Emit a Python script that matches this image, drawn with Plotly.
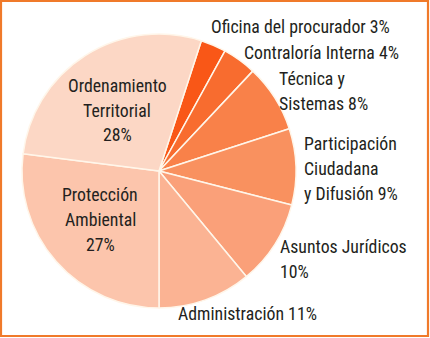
import plotly.graph_objects as go

# Budget share by area (percent), listed clockwise from the top
areas = [
    "Oficina del procurador",
    "Contraloría Interna",
    "Técnica y Sistemas",
    "Participación Ciudadana y Difusión",
    "Asuntos Jurídicos",
    "Administración",
    "Protección Ambiental",
    "Ordenamiento Territorial",
]
shares = [3, 4, 8, 9, 10, 11, 27, 28]

# How each area name is broken across lines in its label
label_lines = [
    ["Oficina del procurador"],
    ["Contraloría Interna"],
    ["Técnica y", "Sistemas"],
    ["Participación", "Ciudadana", "y Difusión"],
    ["Asuntos Jurídicos", ""],
    ["Administración"],
    ["Protección", "Ambiental", ""],
    ["Ordenamiento", "Territorial", ""],
]

colors = ["#F95717", "#F86C2F", "#F98149", "#F9915F", "#FAA079",
          "#FBB393", "#FCC5AC", "#FCD7C5"]

W, H = 430, 338
FONT = "Roboto Condensed, Roboto, sans-serif"
FONT_SIZE = 17.8
LINE_GAP = 25  # px between label lines

# Pie geometry in pixels
cx, cy, r = 159, 171, 137

fig = go.Figure(go.Pie(
    labels=areas,
    values=shares,
    sort=False,
    direction="clockwise",
    rotation=18,
    textinfo="none",
    hoverinfo="label+percent",
    marker=dict(colors=colors, line=dict(color="#FFF6EA", width=1.5)),
    domain=dict(x=[(cx - r) / W, (cx + r) / W],
                y=[(H - cy - r) / H, (H - cy + r) / H]),
))

# Label placement: pixel anchor of the label block centre, horizontal anchor
placements = [
    (209, 27, "left"),
    (242, 52, "left"),
    (277, 91, "left"),
    (302, 168, "left"),
    (278, 259, "left"),
    (247, 313, "center"),
    (100, 219, "center"),
    (117, 110, "center"),
]

for lines, val, (px, py, anchor) in zip(label_lines, shares, placements):
    parts = list(lines)
    if parts[-1] == "":
        parts[-1] = f"{val}%"
    else:
        parts[-1] = f"{parts[-1]} {val}%"
    n = len(parts)
    for i, line in enumerate(parts):
        ly = py + (i - (n - 1) / 2) * LINE_GAP
        fig.add_annotation(
            x=px / W, y=1 - ly / H, xref="paper", yref="paper",
            text=line,
            showarrow=False,
            xanchor=anchor, yanchor="middle",
            align=anchor,
            font=dict(family=FONT, size=FONT_SIZE, color="#231F20"),
        )

# Orange frame around the chart
fig.add_shape(
    type="rect", xref="paper", yref="paper",
    x0=1 / W, x1=428 / W, y0=1 - 336 / H, y1=1 - 1 / H,
    line=dict(color="#F07A2A", width=2.2),
    fillcolor="rgba(0,0,0,0)",
)

fig.update_layout(
    width=W, height=H,
    margin=dict(l=0, r=0, t=0, b=0),
    paper_bgcolor="white",
    plot_bgcolor="white",
    showlegend=False,
)

fig.write_html("out.html")
